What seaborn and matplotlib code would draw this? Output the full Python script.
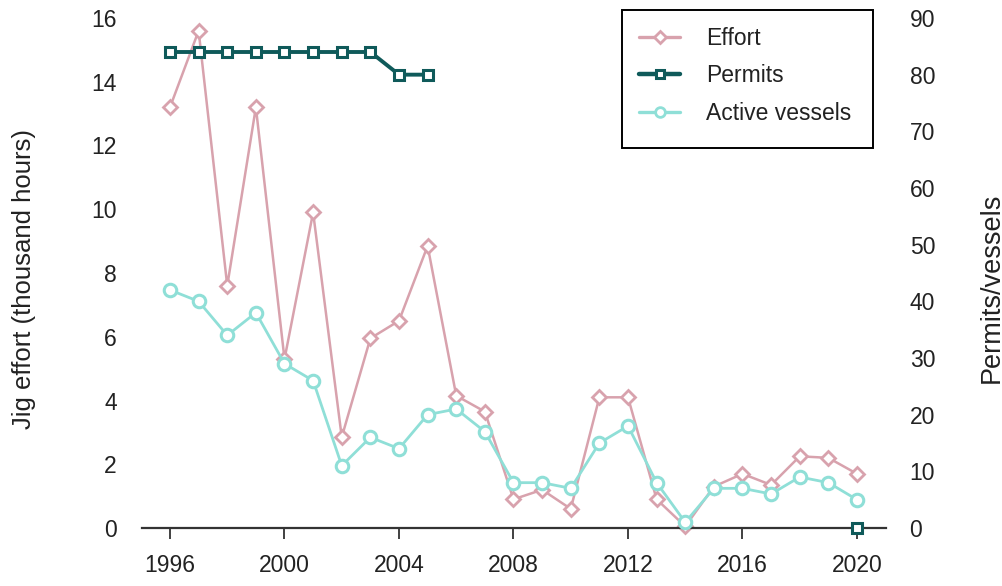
import numpy as np
import pandas as pd
import matplotlib
matplotlib.use("Agg")
import matplotlib.pyplot as plt
from matplotlib.lines import Line2D
from matplotlib.patches import Rectangle
import seaborn as sns

# Annual jig fishery summary
years = list(range(1996, 2021))
effort = [13.2, 15.6, 7.6, 13.2, 5.3, 9.9, 2.85, 5.95, 6.5, 8.85, 4.15, 3.65,
          0.9, 1.2, 0.6, 4.1, 4.1, 0.9, 0.05, 1.3, 1.7, 1.35, 2.25, 2.2, 1.7]
active_vessels = [42, 40, 34, 38, 29, 26, 11, 16, 14, 20, 21, 17,
                  8, 8, 7, 15, 18, 8, 1, 7, 7, 6, 9, 8, 5]
permit_years = [1996, 1997, 1998, 1999, 2000, 2001, 2002, 2003, 2004, 2005, 2020]
permits = [84, 84, 84, 84, 84, 84, 84, 84, 80, 80, 0]
permit_run = [0, 0, 0, 0, 0, 0, 0, 0, 0, 0, 1]

x_ticks = [1996, 2000, 2004, 2008, 2012, 2016, 2020]
series_names = ["Effort", "Permits", "Active vessels"]

c_effort = "#d8a2ad"
c_permits = "#0f5a5a"
c_vessels = "#8fdfd7"
c_text = "#222222"

sns.set_style("white")
plt.rcParams["font.family"] = ["Liberation Sans", "DejaVu Sans"]

df_effort = pd.DataFrame({"year": years, "effort": effort})
df_vessels = pd.DataFrame({"year": years, "vessels": active_vessels})
df_permits = pd.DataFrame({"year": permit_years, "permits": permits, "run": permit_run})

fig = plt.figure(figsize=(10.03, 5.86), dpi=100)
ax = fig.add_axes([142 / 1003, 58 / 586, (886 - 142) / 1003, 510 / 586])
ax2 = ax.twinx()

sns.lineplot(data=df_effort, x="year", y="effort", ax=ax, color=c_effort,
             marker="D", markersize=7.5, markerfacecolor="white",
             markeredgecolor=c_effort, markeredgewidth=2, linewidth=1.8,
             clip_on=False, legend=False)
sns.lineplot(data=df_permits, x="year", y="permits", units="run", estimator=None,
             ax=ax2, color=c_permits, marker="s", markersize=7,
             markerfacecolor="white", markeredgecolor=c_permits,
             markeredgewidth=2.2, linewidth=2.8, clip_on=False, legend=False)
sns.lineplot(data=df_vessels, x="year", y="vessels", ax=ax2, color=c_vessels,
             marker="o", markersize=9, markerfacecolor="white",
             markeredgecolor=c_vessels, markeredgewidth=2.2, linewidth=2.0,
             clip_on=False, legend=False)

ax.set_xlim(1996 - 28 / 28.625, 2020 + 29 / 28.625)
ax.set_ylim(0, 16)
ax2.set_ylim(0, 90)

ax.set_xticks(x_ticks)
ax.set_xticklabels([str(t) for t in x_ticks])
ax.set_yticks(range(0, 17, 2))
ax2.set_yticks(range(0, 91, 10))

for a in (ax, ax2):
    for s in a.spines.values():
        s.set_visible(False)
ax.spines["bottom"].set_visible(True)
ax.spines["bottom"].set_color("#333333")
ax.spines["bottom"].set_linewidth(1.6)

ax.tick_params(axis="x", length=8, width=1.3, color="#333333", direction="out",
               labelsize=16.5, pad=11, labelcolor=c_text, bottom=True)
ax.tick_params(axis="y", length=0, labelsize=16.5, pad=18, labelcolor=c_text)
ax2.tick_params(axis="y", length=0, labelsize=16.5, pad=17, labelcolor=c_text)

ax.set_xlabel("")
ax.set_ylabel("Jig effort (thousand hours)", fontsize=18.5, color=c_text)
ax2.set_ylabel("Permits/vessels", fontsize=19.5, color=c_text, rotation=90)
ax.yaxis.set_label_coords((36 - 142) / 744, (528 - 279) / 510)
ax2.yaxis.set_label_coords((979 - 142) / 744, (528 - 288) / 510)
ax.grid(False)
ax2.grid(False)

handles = [
    Line2D([], [], color=c_effort, marker="D", markersize=6, markerfacecolor="white",
           markeredgecolor=c_effort, markeredgewidth=2, linewidth=2.4),
    Line2D([], [], color=c_permits, marker="s", markersize=6, markerfacecolor="white",
           markeredgecolor=c_permits, markeredgewidth=2.2, linewidth=3.2),
    Line2D([], [], color=c_vessels, marker="o", markersize=7, markerfacecolor="white",
           markeredgecolor=c_vessels, markeredgewidth=2, linewidth=2.4),
]
leg = fig.legend(handles, series_names,
                 loc="upper left", bbox_to_anchor=(622 / 1003, 1 - 10 / 586),
                 frameon=False, fontsize=16.5, handlelength=1.8,
                 handletextpad=1.1, labelspacing=0.62, borderpad=0.75,
                 borderaxespad=0)
for t in leg.get_texts():
    t.set_color(c_text)

# Legend box
fig.patches.append(Rectangle((622 / 1003, 1 - 148 / 586), (873 - 622) / 1003,
                             138 / 586, transform=fig.transFigure, fill=False,
                             edgecolor="black", linewidth=1.4, zorder=5))

fig.savefig("out.png", dpi=100)
